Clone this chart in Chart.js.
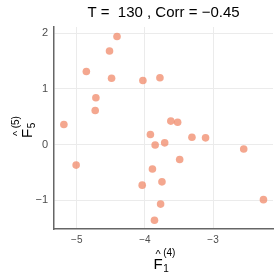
<!DOCTYPE html>
<html>
<head>
<meta charset="utf-8">
<script src="https://cdn.jsdelivr.net/npm/chart.js@4"></script>
<style>
  html, body { margin: 0; padding: 0; background: #fff; }
  #wrap { width: 278px; height: 278px; }
</style>
</head>
<body>
<div id="wrap"><canvas id="scatter"></canvas></div>
<script>
// values
const xVals = [-4.41, -4.52, -4.86, -4.49, -4.03, -3.78, -4.72, -4.73, -5.19, -3.62,
               -3.52, -3.92, -3.31, -3.11, -3.85, -3.71, -2.55, -3.49, -3.89, -3.75,
               -4.04, -2.26, -3.77, -3.86, -5.01];
const yVals = [1.94, 1.68, 1.31, 1.19, 1.15, 1.20, 0.84, 0.61, 0.36, 0.42,
               0.40, 0.18, 0.13, 0.12, -0.01, 0.03, -0.08, -0.27, -0.44, -0.67,
               -0.73, -0.99, -1.07, -1.36, -0.37];
const xTicks = [-5, -4, -3];
const yTicks = [-1, 0, 1, 2];
const titleText = "T =  130 , Corr = \u22120.45";

const points = xVals.map((x, i) => ({ x: x, y: yVals[i] }));
const fmt = v => String(v).replace("-", "\u2212");

// F with a hat, a subscript and a parenthesised superscript
function hatLabel(ctx, sub, sup) {
  ctx.fillStyle = "#000";
  ctx.textBaseline = "alphabetic";
  ctx.textAlign = "left";
  ctx.font = "15px 'Liberation Sans', Arial, sans-serif";
  ctx.fillText("F", 0, 0);
  const fw = ctx.measureText("F").width;
  ctx.font = "11px 'Liberation Sans', Arial, sans-serif";
  ctx.textAlign = "center";
  ctx.fillText("^", fw / 2, -11);
  ctx.textAlign = "left";
  ctx.font = "10px 'Liberation Sans', Arial, sans-serif";
  ctx.fillText(sub, fw + 0.5, 3);
  ctx.fillText(sup, fw + 0.5, -13);
}

const labelsPlugin = {
  id: "labels",
  afterDraw(chart) {
    const ctx = chart.ctx;
    const area = chart.chartArea;
    const cx = (area.left + area.right) / 2;
    ctx.save();
    ctx.fillStyle = "#000";
    ctx.font = "15px 'Liberation Sans', Arial, sans-serif";
    ctx.textAlign = "center";
    ctx.textBaseline = "middle";
    ctx.fillText(titleText, cx, 13);
    ctx.restore();

    ctx.save();
    ctx.translate(cx - 10, 269);
    hatLabel(ctx, "1", "(4)");
    ctx.restore();

    ctx.save();
    ctx.translate(32, (area.top + area.bottom) / 2 + 10);
    ctx.rotate(-Math.PI / 2);
    hatLabel(ctx, "5", "(5)");
    ctx.restore();
  }
};

const ctx = document.getElementById("scatter").getContext("2d");
new Chart(ctx, {
  type: "scatter",
  data: {
    datasets: [{
      data: points,
      backgroundColor: "rgba(240, 138, 106, 0.75)",
      borderWidth: 0,
      pointRadius: 3.8,
      pointHoverRadius: 3.8
    }]
  },
  options: {
    responsive: true,
    maintainAspectRatio: false,
    animation: false,
    layout: { padding: { left: 0, top: 27, right: 5, bottom: 0 } },
    plugins: { legend: { display: false }, tooltip: { enabled: false } },
    scales: {
      x: {
        type: "linear",
        min: -5.335,
        max: -2.12,
        afterFit: s => { s.height = 49; },
        afterBuildTicks: s => { s.ticks = xTicks.map(v => ({ value: v })); },
        ticks: {
          includeBounds: false,
          color: "#4d4d4d",
          font: { size: 10, family: "'Liberation Sans', Arial, sans-serif" },
          padding: 5,
          callback: v => fmt(v)
        },
        grid: { color: "#ebebeb", lineWidth: 1, drawTicks: false },
        border: { color: "#666", width: 1.5 }
      },
      y: {
        type: "linear",
        min: -1.517,
        max: 2.11,
        afterFit: s => { s.width = 54; },
        afterBuildTicks: s => { s.ticks = yTicks.map(v => ({ value: v })); },
        ticks: {
          includeBounds: false,
          color: "#4d4d4d",
          font: { size: 11, family: "'Liberation Sans', Arial, sans-serif" },
          padding: 6,
          callback: v => fmt(v)
        },
        grid: { color: "#ebebeb", lineWidth: 1, drawTicks: false },
        border: { color: "#666", width: 1.5 }
      }
    }
  },
  plugins: [labelsPlugin]
});
</script>
</body>
</html>
